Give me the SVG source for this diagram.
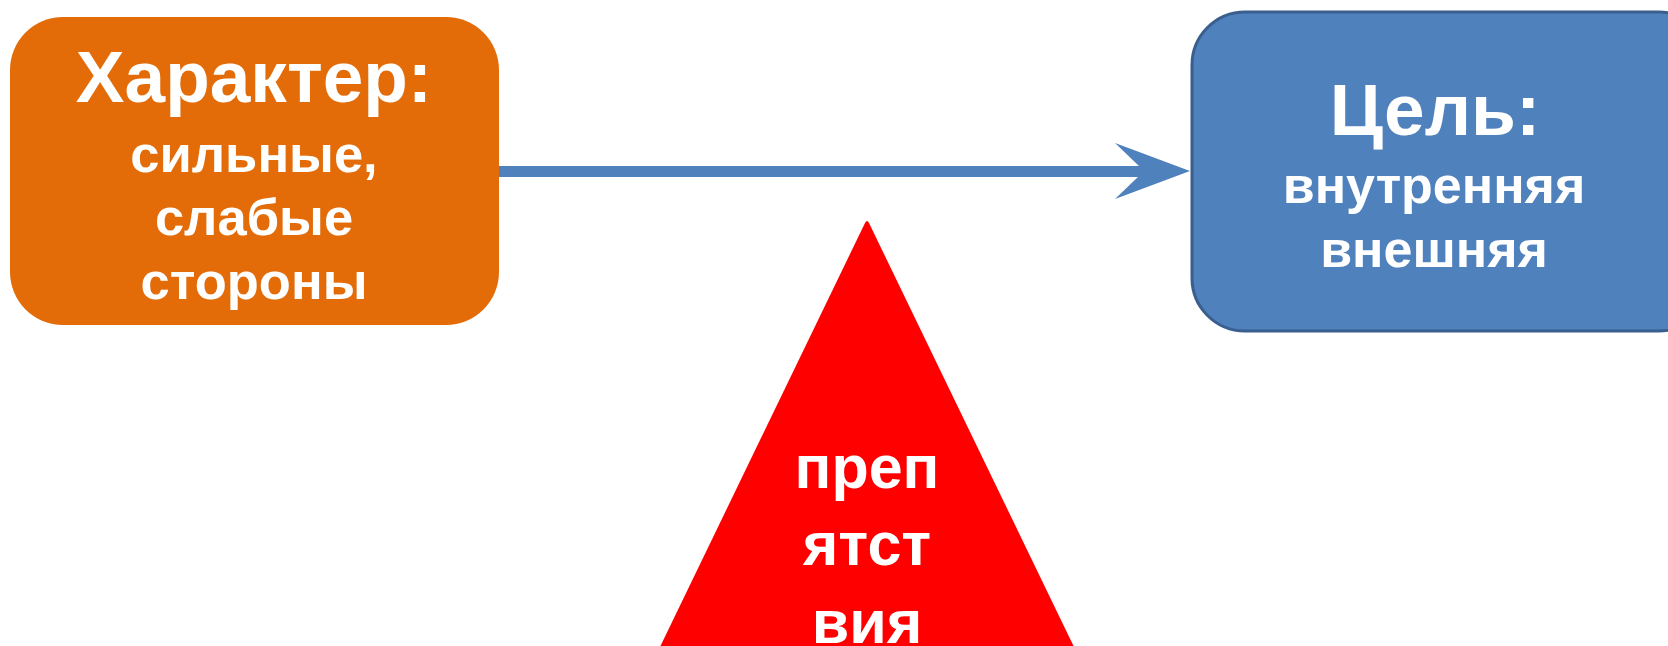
<svg xmlns="http://www.w3.org/2000/svg" width="1668" height="646" viewBox="0 0 1668 646">
  <style>
    .lbl { font-family: "Liberation Sans", Arial, sans-serif; font-weight: bold; fill: #ffffff; text-anchor: middle; }
    .big { font-size: 73px; }
    .mid { font-size: 52.5px; }
    .sm { font-size: 52px; }
    .tri { font-size: 61px; }
  </style>
  <rect width="1668" height="646" fill="#ffffff"/>

  <g id="connectors">
    <rect x="497" y="166" width="642" height="11" fill="#4F81BD"/>
    <polygon points="1115,143 1190,171 1115,199 1139,176 1139,166" fill="#4F81BD"/>
  </g>

  <g id="character">
    <rect x="10" y="17" width="489" height="308" rx="53" ry="53" fill="#E36C09"/>
    <text class="lbl big" x="254" y="102">Характер:</text>
    <text class="lbl mid" x="254" y="172">сильные,</text>
    <text class="lbl mid" x="254" y="235">слабые</text>
    <text class="lbl mid" x="254" y="299">стороны</text>
  </g>

  <g id="goal">
    <rect x="1192" y="12" width="520" height="319" rx="53" ry="53" fill="#4F81BD" stroke="#3A5F8F" stroke-width="3"/>
    <text class="lbl big" x="1435" y="135">Цель:</text>
    <text class="lbl sm" x="1434" y="203">внутренняя</text>
    <text class="lbl sm" x="1434" y="267">внешняя</text>
  </g>

  <g id="obstacles">
    <path d="M865,223 Q867,219 869,223 L1090,680 L644,680 Z" fill="#FF0000"/>
    <text class="lbl tri" x="867" y="488">преп</text>
    <text class="lbl tri" x="867" y="565">ятст</text>
    <text class="lbl tri" x="867" y="643">вия</text>
  </g>
</svg>
